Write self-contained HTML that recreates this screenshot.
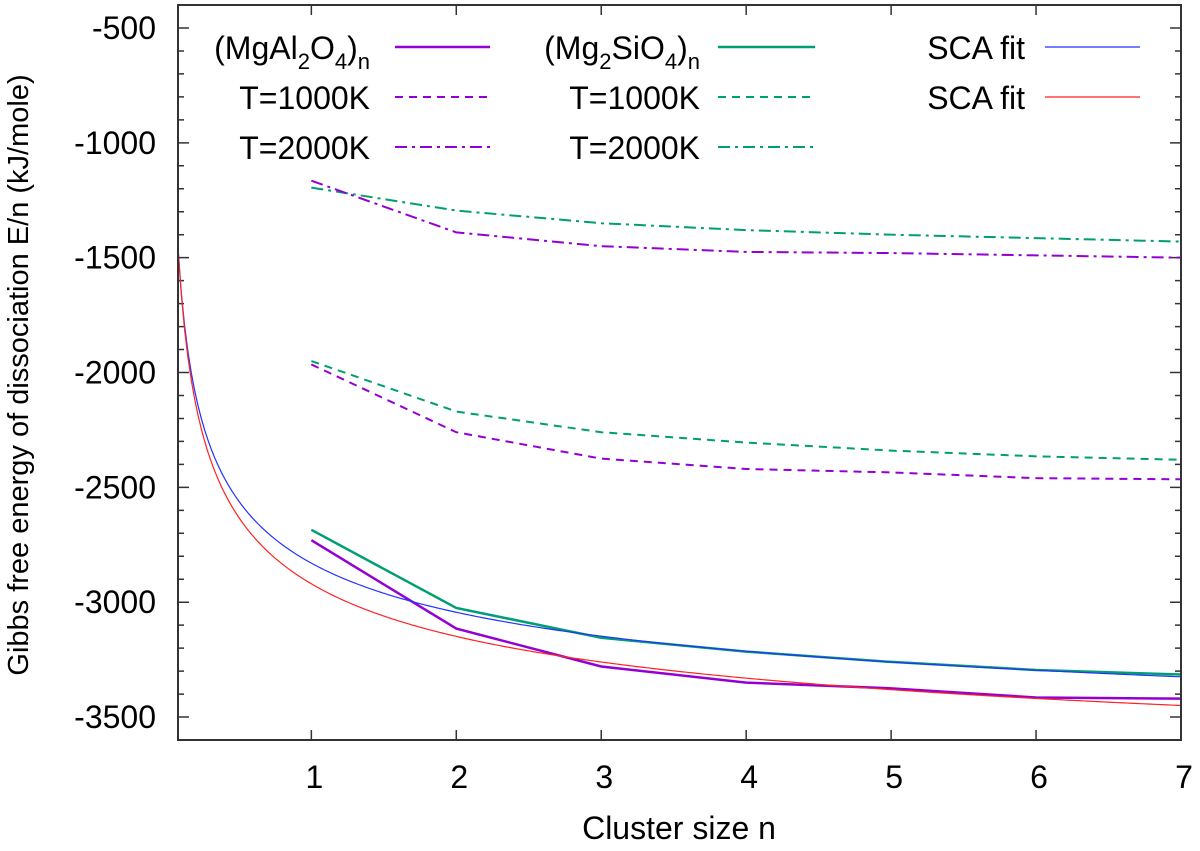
<!DOCTYPE html>
<html><head><meta charset="utf-8"><style>
body{margin:0;background:#fff}
svg{font-family:"Liberation Sans",Arial,sans-serif}
</style></head><body>
<svg id="chart" width="1200" height="846">
<g id="grid"></g>
<g id="series"></g>
<rect x="178" y="5" width="1003" height="735" fill="none" stroke="#333" stroke-width="2"/>
<text x="28" y="375" font-size="29" text-anchor="middle" transform="rotate(-90 28 375)">Gibbs free energy of dissociation E/n (kJ/mole)</text>
<text x="679" y="839" font-size="32" text-anchor="middle">Cluster size n</text>
<g id="legend" font-size="32"></g>
</svg>
<script>
const xTicks=[1,2,3,4,5,6,7];
const yTicks=[-500,-1000,-1500,-2000,-2500,-3000,-3500];
const nVals=[1,2,3,4,5,6,7];
const mgal=[-2730,-3115,-3280,-3350,-3375,-3415,-3420];
const mgsi=[-2685,-3025,-3155,-3215,-3260,-3295,-3315];
const mgal1000=[-1965,-2260,-2375,-2420,-2435,-2460,-2465];
const mgsi1000=[-1950,-2170,-2260,-2305,-2340,-2365,-2380];
const mgal2000=[-1165,-1390,-1450,-1475,-1480,-1490,-1500];
const mgsi2000=[-1195,-1295,-1350,-1380,-1400,-1415,-1430];
const fitBlue=[-3867,1037];
const fitRed=[-4030,1110];
const X0=178,X1=1181,Y0=5,Y1=740,xmin=0.08,xmax=7,ymin=-3600,ymax=-400;
const sx=v=>X0+(v-xmin)/(xmax-xmin)*(X1-X0);
const sy=v=>Y1-(v-ymin)/(ymax-ymin)*(Y1-Y0);
const NS="http://www.w3.org/2000/svg";
const mk=(t,a,p)=>{const e=document.createElementNS(NS,t);for(const k in a)e.setAttribute(k,a[k]);p.appendChild(e);return e;};
const g=document.getElementById('grid');
xTicks.forEach(v=>{
 const x=sx(v);
 const t=mk('path',{d:`M${x} ${Y1}v-10M${x} ${Y0}v10`,stroke:'#333','stroke-width':1.5},g);
 
 
 const l=mk('text',{x:x+3,y:Y1+48,'font-size':32,'text-anchor':'middle'},g);l.textContent=v;
 
 
});
for(let v=-3600;v<=-400;v+=100){
 const y=sy(v),major=v%500===0,len=major?11:6;
 const t=mk('path',{d:`M${X0} ${y}h${len}M${X1} ${y}h-${len}`,stroke:'#333','stroke-width':1.5},g);
 
 
}
yTicks.forEach(v=>{
 const l=mk('text',{x:X0-22,y:sy(v)+11,'font-size':32,'text-anchor':'end'},g);l.textContent=v;
 
 
});
const s=document.getElementById('series');
const PUR='#9400d3',GRN='#009e73';
const DASH='8,6',DD='12,5,3,5';
function line(vals,col,dash,name,w){
 const p=mk('polyline',{points:vals.map((v,i)=>sx(nVals[i])+','+sy(v)).join(' '),fill:'none',stroke:col,'stroke-width':w||2,'stroke-dasharray':dash||'none'},s);
 
 
}
function fit(par,col,name){
 const pts=[];for(let i=0;i<=300;i++){const n=xmin+(xmax-xmin)*i/300;pts.push(sx(n)+','+sy(par[0]+par[1]*Math.pow(n,-1/3)));}
 const p=mk('polyline',{points:pts.join(' '),fill:'none',stroke:col,'stroke-width':1.2},s);
 
 
}
line(mgsi2000,GRN,DD,'mgsi-2000k-line');
line(mgal2000,PUR,DD,'mgal-2000k-line');
line(mgsi1000,GRN,DASH,'mgsi-1000k-line');
line(mgal1000,PUR,DASH,'mgal-1000k-line');
line(mgal,PUR,'','mgal-line',2.5);
line(mgsi,GRN,'','mgsi-line',2.5);
fit(fitBlue,'#2233ff','sca-fit-blue');
fit(fitRed,'#ff2222','sca-fit-red');
const L=document.getElementById('legend');
const ent=[
 [370,395,490,47,'(MgAl<tspan font-size="22" dy="10">2</tspan><tspan dy="-10">O</tspan><tspan font-size="22" dy="10">4</tspan><tspan dy="-10">)</tspan><tspan font-size="22" dy="10">n</tspan>',PUR,'',2.5],
 [370,395,490,97,'T=1000K',PUR,DASH,2],
 [370,395,490,147,'T=2000K',PUR,DD,2],
 [700,718,815,47,'(Mg<tspan font-size="22" dy="10">2</tspan><tspan dy="-10">SiO</tspan><tspan font-size="22" dy="10">4</tspan><tspan dy="-10">)</tspan><tspan font-size="22" dy="10">n</tspan>',GRN,'',2.5],
 [700,718,815,97,'T=1000K',GRN,DASH,2],
 [700,718,815,147,'T=2000K',GRN,DD,2],
 [1025,1045,1140,47,'SCA fit','#2233ff','',1.2],
 [1025,1045,1140,97,'SCA fit','#ff2222','',1.2]];
ent.forEach(e=>{
 const t=mk('text',{x:e[0],y:e[3]+12,'text-anchor':'end'},L);t.innerHTML=e[4];
 
 
 const l=mk('line',{x1:e[1],x2:e[2],y1:e[3],y2:e[3],stroke:e[5],'stroke-width':e[7],'stroke-dasharray':e[6]||'none'},L);
 
 
});
</script>
</body></html>
